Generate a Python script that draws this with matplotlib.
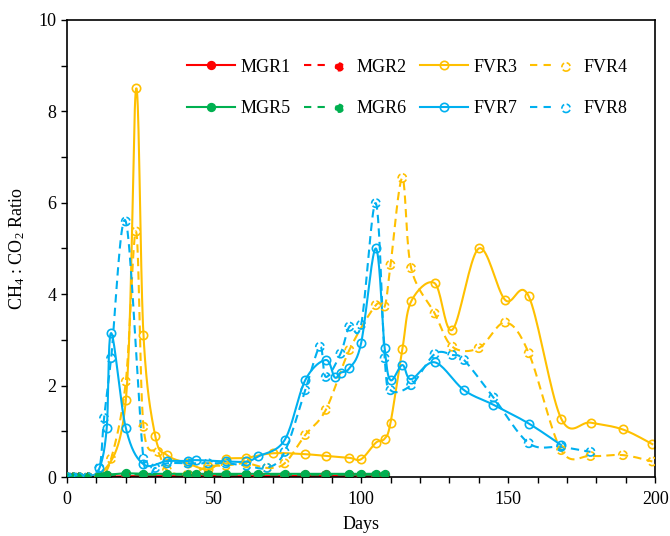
import numpy as np
import matplotlib
matplotlib.use("Agg")
import matplotlib.pyplot as plt
from matplotlib.lines import Line2D
from matplotlib.legend_handler import HandlerTuple
from matplotlib.ticker import MultipleLocator

plt.rcParams["font.family"] = ["Liberation Serif", "DejaVu Serif"]
plt.rcParams["mathtext.fontset"] = "custom"
plt.rcParams["mathtext.rm"] = "Liberation Serif"
plt.rcParams["mathtext.it"] = "Liberation Serif:italic"

# MGR reactors (sampled to day ~108)
mgr_days = [0, 2, 4, 7, 11, 13.5, 20, 26, 34, 41, 44, 48, 54, 61, 65, 74, 81, 88, 96, 100, 105, 108]
mgr1 = [0, 0, 0, 0, 0.01, 0.01, 0.02, 0.02, 0.02, 0.02, 0.02, 0.03, 0.02, 0.02, 0.02, 0.02, 0.02, 0.03, 0.02, 0.02, 0.02, 0.02]
mgr2 = [0, 0, 0, 0, 0.01, 0.02, 0.03, 0.03, 0.03, 0.03, 0.03, 0.05, 0.03, 0.03, 0.03, 0.03, 0.04, 0.05, 0.03, 0.03, 0.03, 0.03]
mgr5 = [0, 0, 0, 0, 0.03, 0.05, 0.08, 0.07, 0.07, 0.07, 0.07, 0.07, 0.07, 0.07, 0.07, 0.07, 0.07, 0.07, 0.07, 0.07, 0.07, 0.07]
mgr6 = [0, 0, 0, 0, 0.02, 0.04, 0.06, 0.05, 0.05, 0.05, 0.05, 0.05, 0.05, 0.05, 0.05, 0.05, 0.05, 0.05, 0.05, 0.05, 0.05, 0.05]

# FVR reactors
fvr3_days = [0, 2, 4, 7, 11, 20, 23.5, 26, 30, 34, 41, 48, 54, 61, 70, 81, 88, 96, 100, 105, 108, 110,
             114, 117, 125, 131, 140, 149, 157, 168, 178, 189, 199]
fvr3 = [0, 0, 0, 0, 0.0, 1.68, 8.5, 3.1, 0.9, 0.48, 0.3, 0.17, 0.39, 0.42, 0.52, 0.5, 0.46, 0.42, 0.39, 0.75,
        0.84, 1.19, 2.79, 3.84, 4.24, 3.22, 5.0, 3.87, 3.95, 1.28, 1.19, 1.04, 0.72]

fvr4_days = [0, 2, 4, 7, 11, 15, 20, 23.5, 26, 31, 34, 41, 48, 54, 61, 68, 74, 81, 88, 96, 105, 108, 110,
             114, 117, 125, 131, 140, 149, 157, 168, 178, 189, 199]
fvr4 = [0, 0, 0, 0, 0, 0.4, 2.09, 5.37, 1.1, 0.55, 0.15, 0.05, 0.23, 0.25, 0.3, 0.2, 0.3, 0.92, 1.47, 2.78,
        3.76, 3.73, 4.64, 6.54, 4.57, 3.58, 2.85, 2.82, 3.38, 2.71, 0.59, 0.46, 0.48, 0.34]

fvr7_days = [0, 2, 4, 7, 11, 13.5, 15, 20, 26, 34, 41, 44, 54, 61, 65, 74, 81, 88, 91, 93, 96, 100, 105,
             108, 110, 114, 117, 125, 135, 145, 157, 168]
fvr7 = [0, 0, 0, 0, 0.19, 1.07, 3.15, 1.07, 0.28, 0.35, 0.35, 0.37, 0.34, 0.34, 0.45, 0.81, 2.12, 2.56,
        2.18, 2.28, 2.38, 2.93, 5.0, 2.82, 2.12, 2.45, 2.14, 2.51, 1.9, 1.58, 1.17, 0.7]

fvr8_days = [0, 2, 4, 7, 11, 12.6, 15, 20, 26, 30, 34, 41, 48, 54, 61, 68, 74, 81, 86, 88, 93, 96,
             100, 105, 108, 110, 117, 125, 131, 135, 145, 157, 168, 178]
fvr8 = [0, 0, 0, 0, 0.2, 1.29, 2.6, 5.59, 0.4, 0.2, 0.3, 0.3, 0.3, 0.3, 0.25, 0.2, 0.55, 1.9, 2.85,
        2.19, 2.7, 3.29, 3.33, 5.99, 2.6, 1.9, 2.01, 2.69, 2.67, 2.56, 1.74, 0.74, 0.66, 0.55]

RED = "#FF0000"
GREEN = "#00B050"
YELLOW = "#FFC000"
BLUE = "#00B0F0"


# Excel-like smoothed line (cubic bezier through the points)
def smooth(xs, ys, n=20):
    p = np.column_stack([xs, ys]).astype(float)
    p = np.vstack([p[0], p, p[-1]])
    out = []
    for i in range(1, len(p) - 2):
        p0, p1, p2, p3 = p[i - 1], p[i], p[i + 1], p[i + 2]
        c1 = p1 + (p2 - p0) / 6
        c2 = p2 - (p3 - p1) / 6
        t = np.linspace(0, 1, n)[:, None]
        seg = ((1 - t) ** 3) * p1 + 3 * ((1 - t) ** 2) * t * c1 + 3 * (1 - t) * t ** 2 * c2 + t ** 3 * p2
        out.append(seg if i == 1 else seg[1:])
    s = np.vstack(out)
    return s[:, 0], s[:, 1]


fig = plt.figure(figsize=(6.7, 5.36), dpi=100)
ax = fig.add_axes([0.1, 0.11, 0.878, 0.853])

series = [
    ("MGR1", mgr_days, mgr1, RED, "-", True),
    ("MGR2", mgr_days, mgr2, RED, "--", True),
    ("FVR3", fvr3_days, fvr3, YELLOW, "-", False),
    ("FVR4", fvr4_days, fvr4, YELLOW, "--", False),
    ("MGR5", mgr_days, mgr5, GREEN, "-", True),
    ("MGR6", mgr_days, mgr6, GREEN, "--", True),
    ("FVR7", fvr7_days, fvr7, BLUE, "-", False),
    ("FVR8", fvr8_days, fvr8, BLUE, "--", False),
]

handles = {}
for name, d, v, c, ls, filled in series:
    sx, sy = smooth(d, v)
    ax.plot(sx, sy, color=c, ls=ls, lw=1.5, dashes=(4, 2.5) if ls == "--" else (None, None))
    fc = c if filled else "none"
    ms = 5.5 if filled else 6
    if ls == "-":
        ax.plot(d, v, ls="none", marker="o", ms=ms, mfc=fc, mec=c, mew=1.2)
        h = Line2D([], [], color=c, lw=1.5, marker="o", ms=ms, mfc=fc, mec=c, mew=1.2)
    else:
        ax.scatter(d, v, s=ms ** 2, facecolors=fc, edgecolors=c, linewidths=1.2, linestyles=(0, (3, 1.5)), zorder=3)
        ln = Line2D([], [], color=c, lw=1.5, dashes=(3.5, 3))
        mk = ax.scatter([], [], s=ms ** 2, facecolors=fc, edgecolors=c, linewidths=1.2, linestyles=(0, (3, 1.5)))
        h = (ln, mk)
    handles[name] = h

order = ["MGR1", "MGR5", "MGR2", "MGR6", "FVR3", "FVR7", "FVR4", "FVR8"]
ax.legend([handles[k] for k in order], order, ncol=4, frameon=False, fontsize=13,
          loc="upper left", bbox_to_anchor=(0.204, 0.915), borderpad=0, borderaxespad=0,
          handlelength=2.65, handletextpad=0.3, columnspacing=0.72, labelspacing=1.35,
          handler_map={tuple: HandlerTuple(ndivide=None)})

ax.set_xlim(0, 200)
ax.set_ylim(0, 10)
ax.xaxis.set_major_locator(MultipleLocator(50))
ax.xaxis.set_minor_locator(MultipleLocator(10))
ax.yaxis.set_major_locator(MultipleLocator(2))
ax.yaxis.set_minor_locator(MultipleLocator(1))
ax.tick_params(which="both", direction="out", length=4, width=1, labelsize=13, colors="black")
ax.tick_params(axis="x", pad=6)
for s in ax.spines.values():
    s.set_linewidth(1.2)
ax.set_xlabel("Days", fontsize=13, labelpad=6)
ax.set_ylabel("CH$_4$ : CO$_2$ Ratio", fontsize=13, labelpad=8)

fig.savefig("out.png", dpi=100)
